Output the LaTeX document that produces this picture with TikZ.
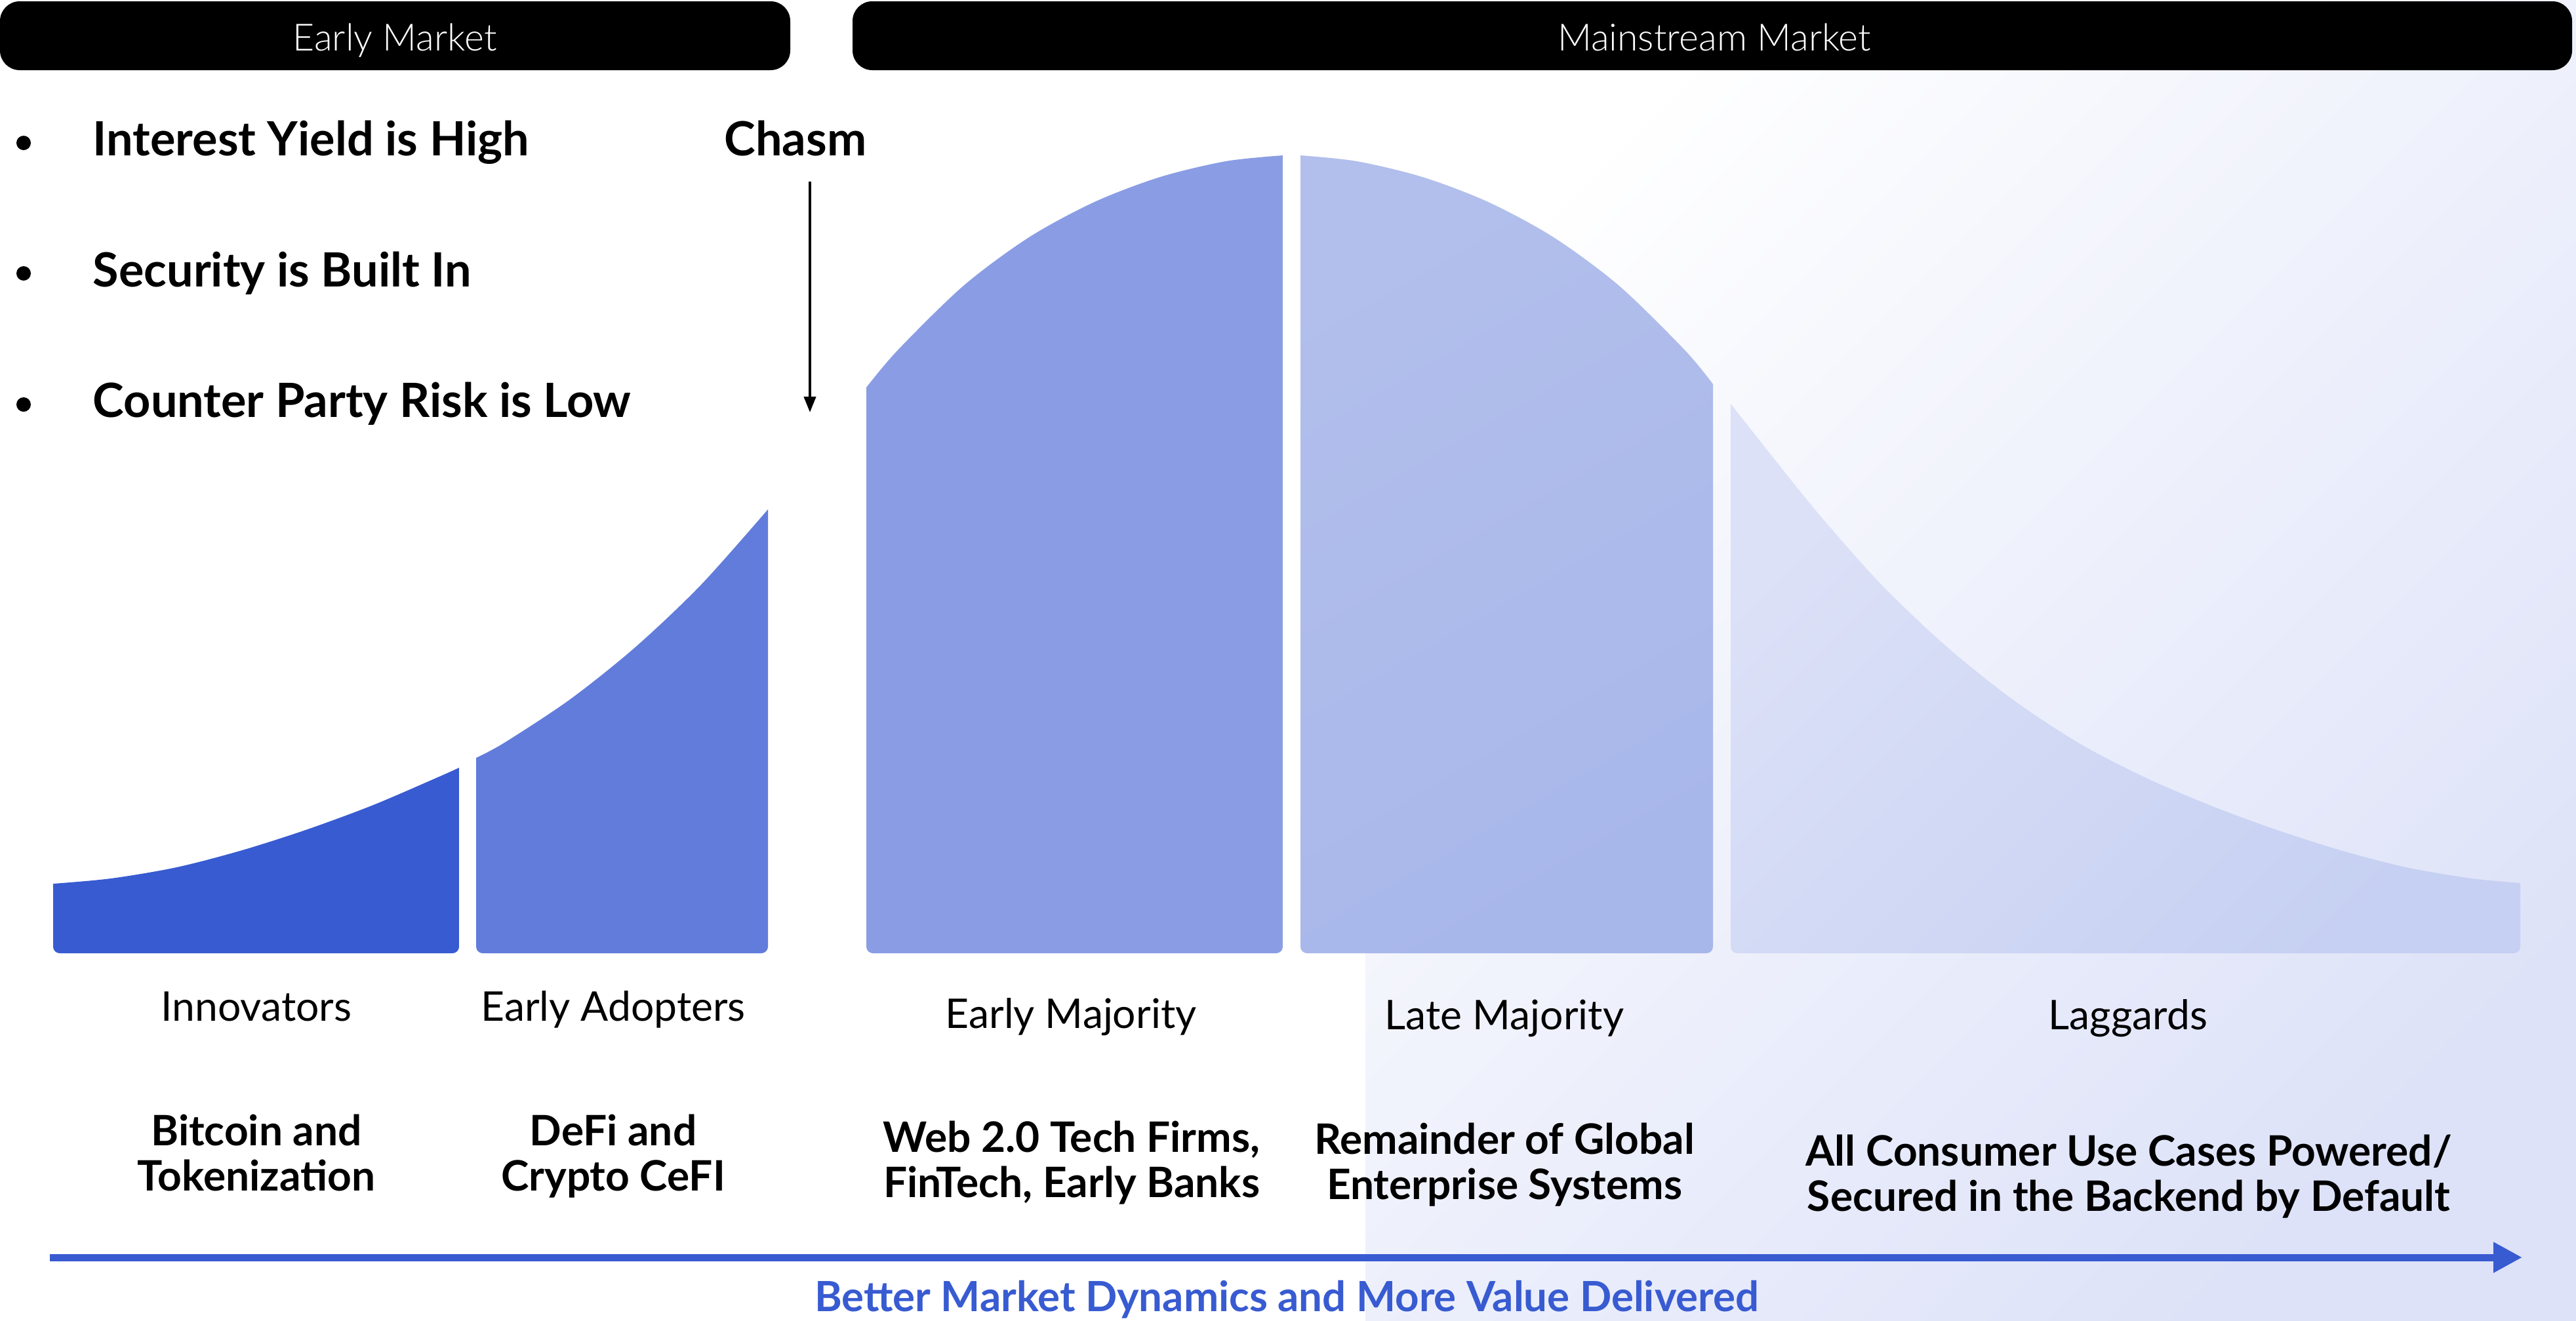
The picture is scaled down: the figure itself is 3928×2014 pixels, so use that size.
\documentclass[tikz,border=0pt]{standalone}
\usepackage{fontspec}
\setmainfont{Lato}
\newfontfamily\lightfont{Lato Light}
\usetikzlibrary{arrows.meta}
\definecolor{innov}{HTML}{385BD1}
\definecolor{adopt}{HTML}{617CDB}
\definecolor{emaj}{HTML}{8A9DE4}
\definecolor{lmajA}{HTML}{B2BFEC}
\definecolor{lmajB}{HTML}{A8B7EA}
\definecolor{lagA}{HTML}{DCE1F7}
\definecolor{lagB}{HTML}{C6D0F2}
\definecolor{bgmid}{HTML}{F5F7FD}
\definecolor{bgend}{HTML}{DDE2F8}
\definecolor{axisblue}{HTML}{385BD1}
\begin{document}
\begin{tikzpicture}[x=0.25pt,y=-0.25pt,
  bartxt/.style={anchor=base, inner sep=0pt, text=white, font=\lightfont\fontsize{14.3pt}{17pt}\selectfont},
  marketbar/.style={fill=black, rounded corners=7.5pt},
  bullettxt/.style={anchor=base west, inner sep=0pt, font=\fontsize{18pt}{21pt}\selectfont\bfseries},
  bulletdot/.style={circle, fill=black, inner sep=0pt, minimum size=5.5pt},
  seglabel/.style={anchor=base, inner sep=0pt, font=\fontsize{15.6pt}{18pt}\selectfont},
  segdesc/.style={anchor=base, inner sep=0pt, font=\fontsize{16pt}{18pt}\selectfont\bfseries},
  bottomtxt/.style={anchor=base, inner sep=0pt, text=axisblue, font=\fontsize{15.9pt}{18pt}\selectfont\bfseries},
  bellclip/.style={rounded corners=2.5pt}]
\useasboundingbox (0,0) rectangle (3928,2014);
\fill[white] (0,0) rectangle (3928,2014);
\shade[shading=axis, top color=white, middle color=bgmid, bottom color=bgend, shading angle=45] (2082,0) rectangle (3928,2014);

% market bars
\fill[marketbar] (0,2) rectangle (1205,107);
\fill[marketbar] (1300,2) rectangle (3922,107);
\node[bartxt] (em) at (602,77) {Early Market};
\node[bartxt] (mm) at (2614,77) {Mainstream Market};

% bullets
\node[bulletdot] (d1) at (36,218) {};
\node[bulletdot] (d2) at (36,417) {};
\node[bulletdot] (d3) at (36,617) {};
\node[bullettxt] (b1) at (141,237) {Interest Yield is High};
\node[bullettxt] (b2) at (141,437) {Security is Built In};
\node[bullettxt] (b3) at (141,636) {Counter Party Risk is Low};

% chasm
\node[bullettxt, anchor=base] (chasm) at (1213,237) {Chasm};
\coordinate (chtop) at (1235,277);
\coordinate (chbot) at (1235,629);
\draw[line width=1pt, -{Triangle[length=6pt,width=4.5pt]}] (chtop) -- (chbot);

% bell curve segments
\begin{scope}
\clip[bellclip] (81,200) rectangle (700,1454);
\fill[innov] (81,1454) -- (81,1348) -- plot[smooth] coordinates {(81,1348) (169,1340) (269,1323) (369,1297) (469,1265) (569,1228) (669,1185) (700,1171)}
  -- (700,1454) -- cycle;
\end{scope}
\begin{scope}
\clip[bellclip] (726,200) rectangle (1171,1454);
\fill[adopt] (726,1454) -- (726,1156) -- plot[smooth] coordinates {(726,1156) (769,1133) (869,1067) (969,987) (1069,892) (1171,777)}
  -- (1171,1454) -- cycle;
\end{scope}
\begin{scope}
\clip[bellclip] (1321,200) rectangle (1956,1454);
\fill[emaj] (1321,1454) -- (1321,591) -- plot[smooth] coordinates {(1321,591) (1369,534) (1469,436) (1569,362) (1669,308) (1769,270) (1869,246) (1956,237)}
  -- (1956,1454) -- cycle;
\end{scope}
\begin{scope}
\clip[bellclip] (1983,200) rectangle (2612,1454);
\shade[top color=lmajA, bottom color=lmajB, shading angle=30]
  (1983,1454) -- (1983,237) -- plot[smooth] coordinates {(1983,237) (2069,246) (2169,270) (2269,308) (2369,362) (2469,436) (2569,534) (2612,586)}
  -- (2612,1454) -- cycle;
\end{scope}
\begin{scope}
\clip[bellclip] (2639,200) rectangle (3843,1454);
\shade[top color=lagA, bottom color=lagB, shading angle=45]
  (2639,1454) -- (2639,616) -- plot[smooth] coordinates {(2639,616) (2669,654) (2769,779) (2869,892) (2969,987) (3069,1067) (3169,1133) (3269,1185) (3369,1228) (3469,1265) (3569,1297) (3669,1323) (3769,1340) (3843,1347)}
  -- (3843,1454) -- cycle;
\end{scope}

% segment labels
\node[seglabel] (l1) at (391,1557) {Innovators};
\node[seglabel] (l2) at (935,1557) {Early Adopters};
\node[seglabel] (l3) at (1633,1568) {Early Majority};
\node[seglabel] (l4) at (2294,1570) {Late Majority};
\node[seglabel] (l5) at (3245,1570) {Laggards};

% descriptions
\node[segdesc] (t1a) at (391,1747) {Bitcoin and};
\node[segdesc] (t1b) at (391,1816) {Tokenization};
\node[segdesc] (t2a) at (935,1747) {DeFi and};
\node[segdesc] (t2b) at (935,1816) {Crypto CeFI};
\node[segdesc] (t3a) at (1634,1757) {Web 2.0 Tech Firms,};
\node[segdesc] (t3b) at (1634,1826) {FinTech, Early Banks};
\node[segdesc] (t4a) at (2294,1760) {Remainder of Global};
\node[segdesc] (t4b) at (2294,1829) {Enterprise Systems};
\node[segdesc] (t5a) at (3246,1778) {All Consumer Use Cases Powered/};
\node[segdesc] (t5b) at (3246,1847) {Secured in the Backend by Default};

% value axis
\coordinate (ax0) at (76,1918);
\coordinate (ax1) at (3846,1918);
\draw[axisblue, line width=2.75pt, -{Triangle[length=11pt,width=11pt]}] (ax0) -- (ax1);
\node[bottomtxt] (val) at (1962,2000) {Better Market Dynamics and More Value Delivered};
\end{tikzpicture}
\end{document}
